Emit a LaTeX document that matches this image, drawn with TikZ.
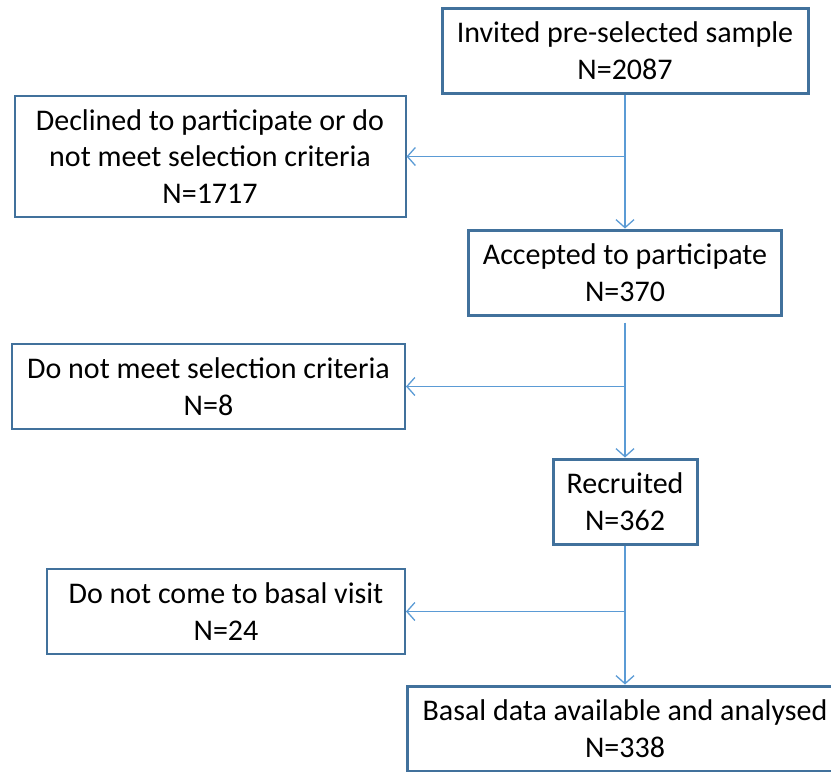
\documentclass[tikz,border=0pt]{standalone}
\usepackage{fontspec}
\setmainfont{Carlito}
\usetikzlibrary{arrows.meta}
\usetikzlibrary{positioning}
\definecolor{boxblue}{HTML}{41719C}
\definecolor{lineblue}{HTML}{5B9BD5}
\tikzset{block/.style={draw=boxblue, line width=1.5pt, align=center, inner sep=0pt, font=\fontsize{15}{18.3}\selectfont}}
\tikzset{sideblock/.style={block, line width=1pt}}
\tikzset{connect/.style={draw=lineblue, line width=0.65pt, >={Straight Barb[length=4pt,width=9pt]}}}

\begin{document}
\begin{tikzpicture}[x=0.5pt,y=-0.5pt]
\useasboundingbox (0,0) rectangle (831,772);

\node[block,minimum width=183pt,minimum height=42.5pt] (invited) at (625,50.5) {Invited pre-selected sample\\N=2087};
\node[sideblock,minimum width=195.5pt,minimum height=60.5pt] (declined) at (210,156.5) {Declined to participate or do\\not meet selection criteria\\N=1717};
\node[block,minimum width=156.5pt,minimum height=42.5pt] (accepted) at (625,272.5) {Accepted to participate\\N=370};
\node[sideblock,minimum width=196.5pt,minimum height=42.5pt] (notmeet) at (208.5,386.5) {Do not meet selection criteria\\N=8};
\node[block,minimum width=72pt,minimum height=42.5pt] (recruited) at (625,501.5) {Recruited\\N=362};
\node[sideblock,minimum width=179pt,minimum height=42.5pt] (novisit) at (226,611.5) {Do not come to basal visit\\N=24};
\node[block,minimum width=218pt,minimum height=42.5pt] (basal) at (625,728.5) {Basal data available and analysed\\N=338};

\path[connect,->] (invited.south) -- (accepted.north);
\path[connect,->] (declined.east -| invited.south) -- (declined.east);

\path[connect,->,shorten <=3pt] (accepted.south) -- (recruited.north);
\path[connect,->] (notmeet.east -| accepted.south) -- (notmeet.east);

\path[connect,->] (recruited.south) -- (basal.north);
\path[connect,->] (novisit.east -| recruited.south) -- (novisit.east);

\end{tikzpicture}
\end{document}
